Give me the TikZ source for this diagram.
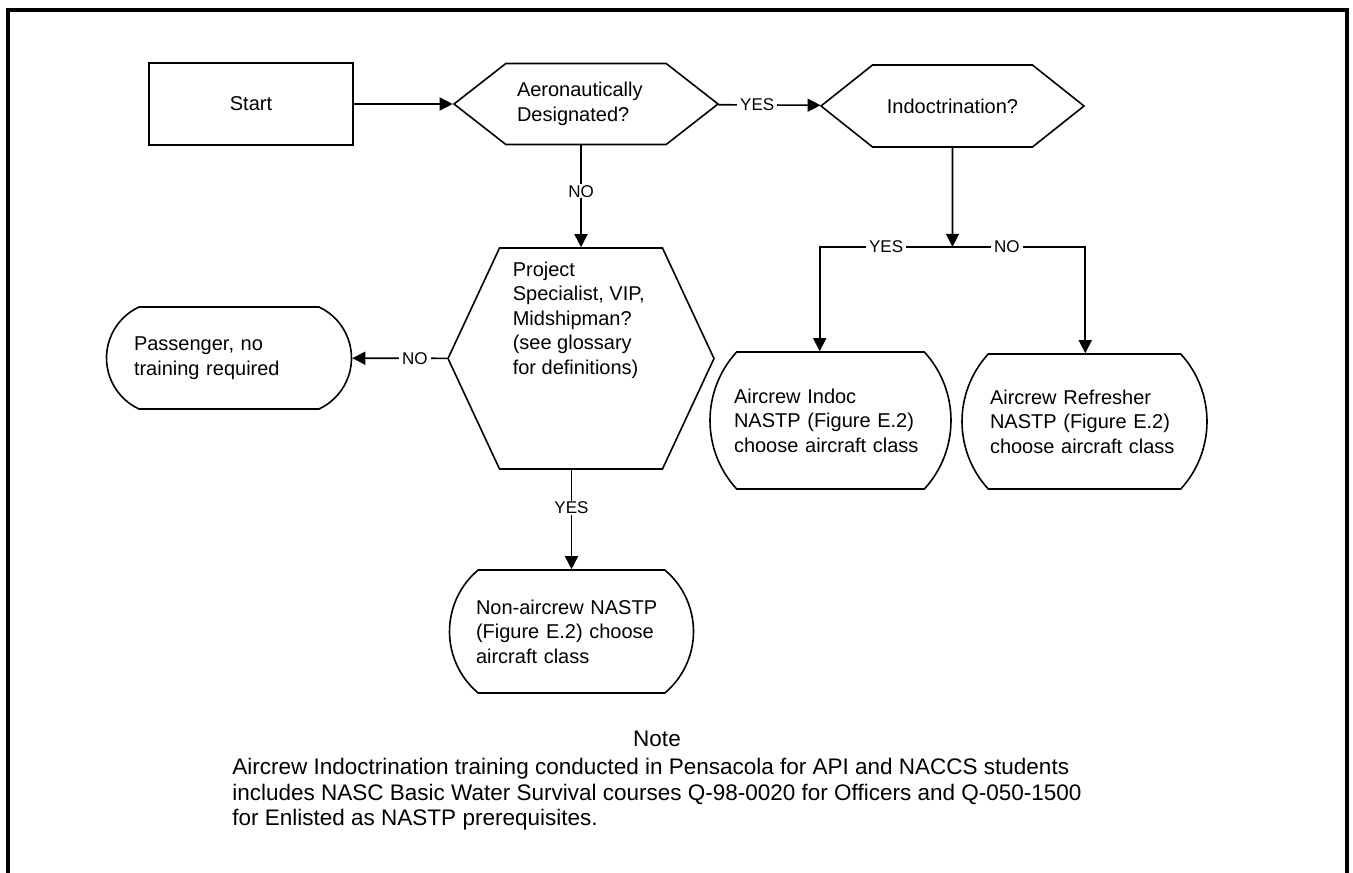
\documentclass[tikz,border=0pt]{standalone}
\usepackage{fontspec}
\setmainfont{Liberation Sans}
\usetikzlibrary{shapes.symbols,shapes.misc,arrows.meta,positioning}
\tikzset{hexq/.style={draw,signal,signal to=east and west,signal pointer angle=#1,inner sep=0pt},
    term/.style={draw,rounded rectangle,rounded rectangle arc length=#1,align=left,inner sep=0pt},
    arr/.style={-{Triangle[length=13pt,width=13pt]}},
    lbl/.style={fill=white,inner xsep=3pt,inner ysep=1pt,font=\fontsize{17}{20}\selectfont}}

\begin{document}
\begin{tikzpicture}[x=1pt,y=-1pt,line width=1.6pt,font=\fontsize{20}{24.5}\selectfont]
            \useasboundingbox (0,0) rectangle (1353,873);
            \draw[line width=4pt] (8,873) -- (8,10) -- (1347,10) -- (1347,873);
            \node[draw,minimum width=204pt,minimum height=82pt] (start) at (251,104) {Start};
            \node[hexq=76,minimum width=264pt,minimum height=81pt,text width=138pt,align=left] (aero) at (586,104) {Aeronautically\\Designated?};
            \node[hexq=77,minimum width=263pt,minimum height=82pt] (indoct) at (952.5,106) {Indoctrination?};
            \node[hexq=130,minimum width=266pt,minimum height=221pt] (proj) at (581,358.5) {};
            \node[anchor=north west,align=left,inner sep=0pt] (projtext) at (512,261) {Project\\Specialist, VIP,\\Midshipman?\\(see glossary\\for definitions)};
            \node[term=130,minimum width=245pt,minimum height=102pt,text width=190pt] (pass) at (229,358) {Passenger, no\\training required};
            \node[term=100,minimum width=244pt,minimum height=123pt,text width=191pt] (nonair) at (571.5,631.5) {Non-aircrew NASTP\\(Figure E.2) choose\\aircraft class};
            \node[term=85,minimum width=241pt,minimum height=137pt,text width=193pt] (indoc) at (830.5,420.5) {Aircrew Indoc\\NASTP (Figure E.2)\\choose aircraft class};
            \node[term=85,minimum width=245pt,minimum height=135pt,text width=189pt] (refr) at (1084.5,421.5) {Aircrew Refresher\\NASTP (Figure E.2)\\choose aircraft class};
            \node[inner sep=0pt,font=\fontsize{22.5}{25.5}\selectfont] (note) at (657,739) {Note};
            \node[below=10pt of note,align=left,inner sep=0pt,font=\fontsize{22.5}{25.5}\selectfont] (notetext) {Aircrew Indoctrination training conducted in Pensacola for API and NACCS students\\includes NASC Basic Water Survival courses Q-98-0020 for Officers and Q-050-1500\\for Enlisted as NASTP prerequisites.};
            \draw[arr] (start) -- (aero);
            \draw[arr] (aero) -- node[lbl,pos=0.38]{YES} (indoct);
            \draw[arr] (proj.north |- aero.south) -- node[lbl,pos=0.45]{NO} (proj.north);
            \draw[arr] (proj) -- node[lbl,pos=0.34]{NO} (pass);
            \draw[arr] (nonair.north |- proj.south) -- node[lbl,pos=0.38]{YES} (nonair.north);
            \coordinate (split) at ([yshift=-99pt]indoct.south);
            \coordinate (yesend) at (split -| indoct.west);
            \coordinate (noend) at (split -| indoct.east);
            \draw[arr] (indoct) -- (split);
            \draw[arr] (split) -- node[lbl,pos=0.5]{YES} (yesend) -- (yesend |- indoc.north);
            \draw[arr] (split) -- node[lbl,pos=0.41]{NO} (noend) -- (noend |- refr.north);
        \end{tikzpicture}
\end{document}
